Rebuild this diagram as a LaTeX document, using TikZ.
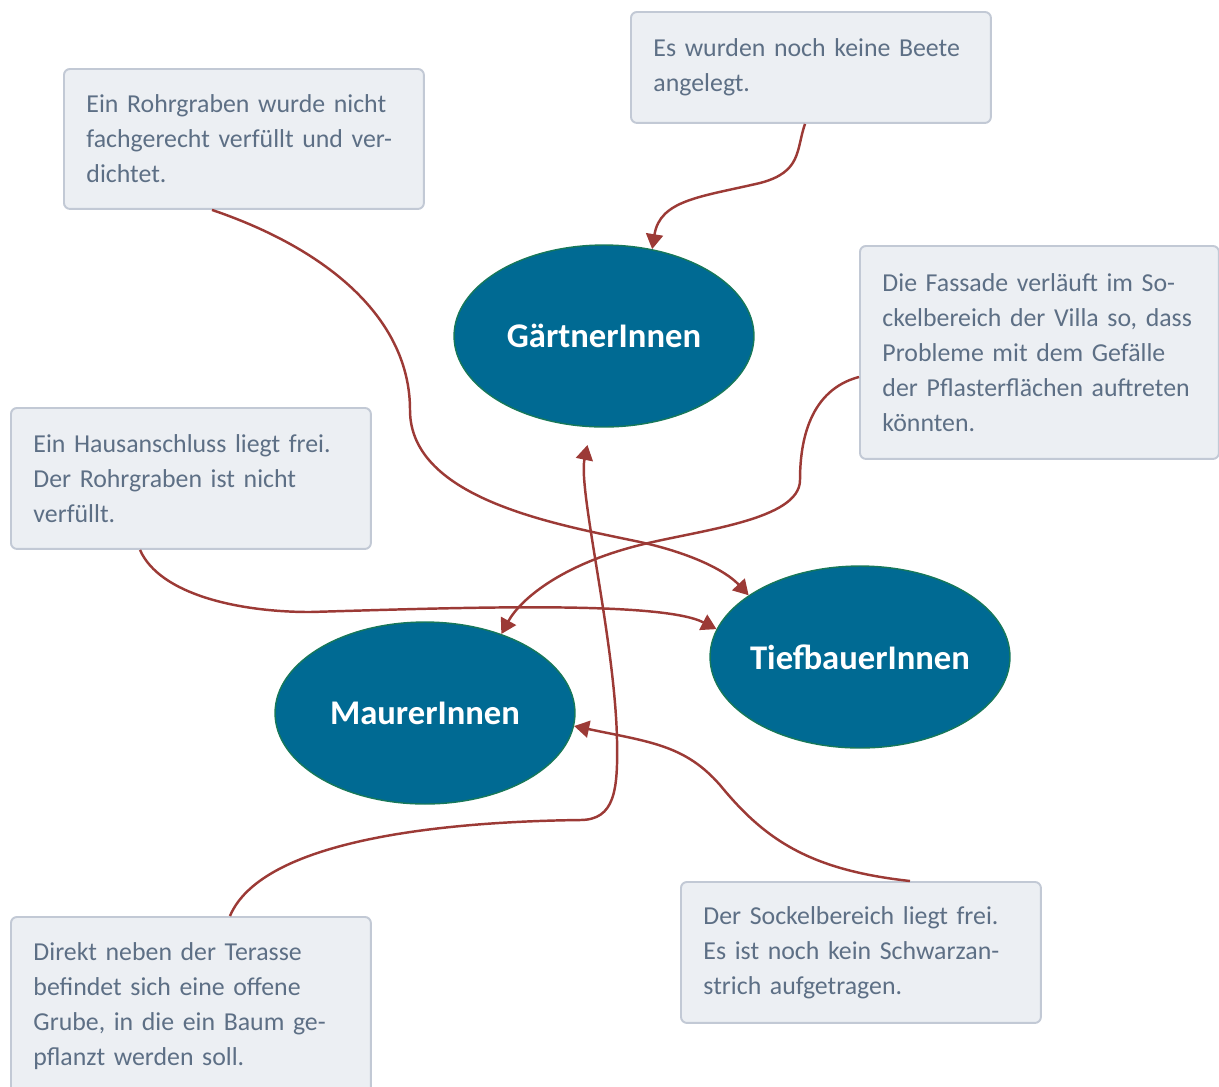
\documentclass[tikz,border=0pt]{standalone}
\usepackage{fontspec}
\setmainfont{Carlito}
\usetikzlibrary{arrows.meta,shapes.geometric}

\definecolor{notefill}{HTML}{ECEFF3}
\definecolor{noteline}{HTML}{C2C9D5}
\definecolor{notetext}{HTML}{5D6F85}
\definecolor{tradefill}{HTML}{006A93}
\definecolor{tradeline}{HTML}{17785A}
\definecolor{linkred}{HTML}{9C3A36}

\begin{document}
\begin{tikzpicture}[
  x=0.02cm,
  y=-0.02cm,
  note/.style={draw=noteline, fill=notefill, line width=1.1pt,
    rounded corners=1.2mm, anchor=north west, text width=6.3cm,
    inner xsep=0.45cm, inner ysep=0.3cm, align=left, text=notetext,
    font=\fontsize{14.7pt}{19.9pt}\selectfont},
  trade/.style={ellipse, draw=tradeline, fill=tradefill, line width=0.8pt,
    minimum width=6cm, minimum height=3.64cm, inner xsep=-0.1cm,
    inner ysep=0pt, text=white,
    font=\fontsize{19.7pt}{23pt}\selectfont\bfseries},
  link/.style={draw=linkred, line width=1.4pt,
    -{Triangle[length=3mm,width=3.4mm]}}
]
  \path[use as bounding box] (0,0) rectangle (1219,1086);

  % Trades in the middle.
  \node[trade] (gaertner) at (604,336) {GärtnerInnen};
  \node[trade] (tiefbau) at (860,657) {TiefbauerInnen};
  \node[trade] (maurer) at (425,713) {MaurerInnen};

  % Notes around them.
  \node[note, minimum height=2.22cm] (beete) at (630,11)
    {Es wurden noch keine Beete\\angelegt.};
  \node[note, minimum height=2.8cm] (rohrgraben) at (63,68)
    {Ein Rohrgraben wurde nicht\\fachgerecht verfüllt und ver-\\dichtet.};
  \node[note, minimum height=4.26cm, text width=6.28cm] (fassade) at (859,245)
    {Die Fassade verläuft im So-\\ckelbereich der Villa so, dass\\Probleme mit dem Gefälle\\der Pflasterflächen auftreten\\könnten.};
  \node[note, minimum height=2.82cm] (hausanschluss) at (10,407)
    {Ein Hausanschluss liegt frei.\\Der Rohrgraben ist nicht\\verfüllt.};
  \node[note, minimum height=3.56cm] (grube) at (10,916)
    {Direkt neben der Terasse\\befindet sich eine offene\\Grube, in die ein Baum ge-\\pflanzt werden soll.};
  \node[note, minimum height=2.82cm] (sockel) at (680,881)
    {Der Sockelbereich liegt frei.\\Es ist noch kein Schwarzan-\\strich aufgetragen.};

  % Links from the notes to the trades.
  \draw[link] ([xshift=3.5cm]beete.south west)
    .. controls (796,150) and (802,172) .. (760,183)
    .. controls (700,197) and (660,200) .. (gaertner.61);
  \draw[link] ([xshift=2.98cm]rohrgraben.south west)
    .. controls (330,250) and (410,320) .. (410,410)
    .. controls (410,500) and (560,525) .. (640,542)
    .. controls (690,553) and (725,570) .. (tiefbau.151);
  \draw[link] ([yshift=-0.49cm]fassade.west)
    .. controls (810,390) and (800,440) .. (800,480)
    .. controls (800,520) and (700,530) .. (640,545)
    .. controls (560,565) and (520,600) .. (maurer.46);
  \draw[link] ([xshift=2.6cm]hausanschluss.south west)
    .. controls (160,595) and (240,612) .. (310,612)
    .. controls (450,608) and (660,600) .. (tiefbau.169);
  \draw[link, shorten >=0.36cm] ([xshift=4.4cm]grube.north west)
    .. controls (260,845) and (420,822) .. (580,820)
    .. controls (615,820) and (618,790) .. (617,740)
    .. controls (615,640) and (578,490) .. (gaertner.262);
  \draw[link] ([xshift=4.6cm]sockel.north west)
    .. controls (810,870) and (765,840) .. (720,785)
    .. controls (685,745) and (650,742) .. (maurer.-5);
\end{tikzpicture}
\end{document}
